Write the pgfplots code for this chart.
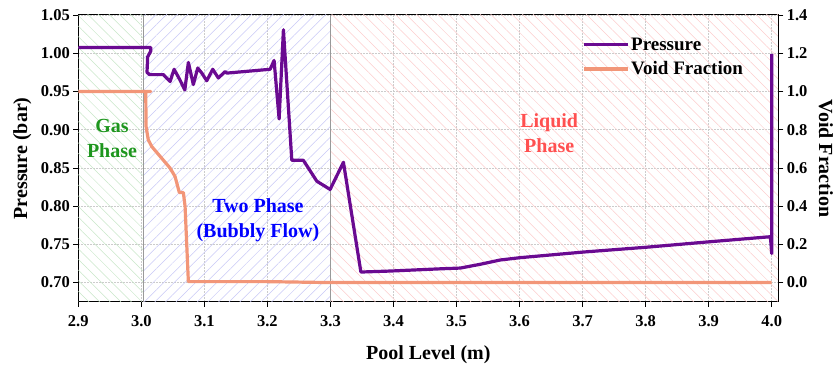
\documentclass[border=0pt]{standalone}
\usepackage{fontspec}
\setmainfont{Liberation Serif}
\usepackage{pgfplots}
\pgfplotsset{compat=1.18}
\usetikzlibrary{patterns.meta}
\definecolor{pres}{RGB}{106,10,145}
\definecolor{voidc}{RGB}{242,150,120}
\definecolor{gasc}{RGB}{30,150,30}
\definecolor{liqc}{RGB}{255,80,80}
\definecolor{hg}{RGB}{200,230,200}
\definecolor{hb}{RGB}{200,200,246}
\definecolor{hr}{RGB}{252,205,205}
\newcommand{\tfont}{\fontsize{16.5bp}{18bp}\selectfont\bfseries}
\newcommand{\lfont}{\fontsize{20bp}{24bp}\selectfont\bfseries}
\begin{document}
\begin{tikzpicture}
\useasboundingbox (-78.3bp,-70.3bp) rectangle (758.7bp,301.7bp);
\begin{axis}[
  scale only axis, width=700bp, height=286.7bp,
  xmin=2.9, xmax=4.0105, ymin=0.675, ymax=1.05,
  xtick={2.9,3.0,...,4.01}, ytick={0.70,0.75,...,1.051},
  xtick pos=bottom, ytick pos=left, tick align=outside,
  major tick length=5bp,
  tick style={black, line width=0.8bp},
  axis line style={black, line width=1bp},
  grid=major, grid style={gray!40, line width=0.5bp, dash pattern=on 1.5bp off 1.5bp},
  tick label style={font=\tfont},
  /pgf/number format/assume math mode=true,
  xticklabel style={yshift=-5bp, /pgf/number format/.cd, fixed, fixed zerofill, precision=1},
  yticklabel style={/pgf/number format/.cd, fixed, fixed zerofill, precision=2},
  xlabel={Pool Level (m)}, ylabel={Pressure (bar)},
  label style={font=\lfont},
  xlabel style={at={(axis description cs:0.5,-0.186)}, anchor=center},
  ylabel style={at={(axis description cs:-0.08,0.5)}, anchor=center},
]
\addplot[draw=none, pattern={Lines[angle=-45,distance=7.5bp,line width=0.5bp]}, pattern color=hg] coordinates {(2.9,1.05) (3.003,1.05)} \closedcycle;
\addplot[draw=none, pattern={Lines[angle=45,distance=7.5bp,line width=0.5bp]}, pattern color=hb] coordinates {(3.003,1.05) (3.3,1.05)} \closedcycle;
\addplot[draw=none, pattern={Lines[angle=-45,distance=7.5bp,line width=0.5bp]}, pattern color=hr] coordinates {(3.3,1.05) (4.0105,1.05)} \closedcycle;
\addplot[gray!80, line width=0.7bp] coordinates {(3.003,0.675) (3.003,1.05)};
\addplot[gray!80, line width=0.7bp] coordinates {(3.3,0.675) (3.3,1.05)};
\addplot[pres, line width=3.2bp, line join=round] coordinates {
(2.900,1.0076) (3.015,1.0076) (3.015,1.003) (3.010,0.995) (3.009,0.975)
(3.013,0.972) (3.018,0.972) (3.035,0.972) (3.0456,0.963) (3.052,0.979)
(3.061,0.9654) (3.069,0.952) (3.0746,0.988) (3.0825,0.959) (3.0895,0.9807)
(3.0959,0.974) (3.1038,0.964) (3.1133,0.979) (3.1222,0.9676) (3.1329,0.976)
(3.1356,0.974) (3.2043,0.979) (3.2106,0.9906) (3.2186,0.914) (3.2254,1.0307)
(3.2387,0.860) (3.257,0.860) (3.2784,0.8326) (3.2995,0.8218) (3.3206,0.8574)
(3.3483,0.7138) (3.3948,0.7151) (3.474,0.718) (3.506,0.719) (3.538,0.724)
(3.569,0.7295) (3.601,0.7326) (3.702,0.740) (3.802,0.7463) (3.903,0.7535)
(3.998,0.760) (4.000,0.738) (4.000,0.999)};
\node[font=\lfont, text=gasc, align=center] at (axis cs:2.9535,0.8884) {Gas\\[1bp]Phase};
\node[font=\lfont, text=blue, align=center] at (axis cs:3.185,0.782) {Two Phase\\[1bp](Bubbly Flow)};
\node[font=\lfont, text=liqc, align=center] at (axis cs:3.647,0.896) {Liquid\\[1bp]Phase};
\end{axis}
\begin{axis}[
  scale only axis, width=700bp, height=286.7bp,
  xmin=2.9, xmax=4.0105, ymin=-0.1, ymax=1.4,
  axis x line=none, axis y line*=right,
  ytick={0,0.2,...,1.41}, tick align=outside,
  major tick length=5bp,
  tick style={black, line width=0.8bp},
  axis line style={black, line width=1bp},
  tick label style={font=\tfont},
  /pgf/number format/assume math mode=true,
  yticklabel style={/pgf/number format/.cd, fixed, fixed zerofill, precision=1},
  ylabel={Void Fraction},
  label style={font=\lfont},
  ylabel style={at={(axis description cs:1.068,0.5)}, anchor=center, rotate=180},
  legend style={draw=none, fill=none, font=\fontsize{19bp}{22bp}\selectfont\bfseries,
    at={(axis description cs:0.715,0.935)}, anchor=north west,
    row sep=6bp},
  legend cell align=left,
  legend image code/.code={\draw[#1] (0bp,0bp) -- (44bp,0bp);},
]
\addlegendimage{pres, line width=3.2bp}
\addlegendentry{Pressure}
\addplot[voidc, line width=3.2bp, line join=round] coordinates {
(2.900,1.0) (3.015,1.0) (3.007,1.0) (3.0075,0.817) (3.011,0.747)
(3.0165,0.712) (3.0456,0.599) (3.0535,0.555) (3.0603,0.471) (3.0667,0.471)
(3.0694,0.398) (3.0746,0.005) (3.2,0.005) (3.3,0.0) (4.0,0.0)};
\addlegendentry{Void Fraction}
\end{axis}
\end{tikzpicture}
\end{document}
